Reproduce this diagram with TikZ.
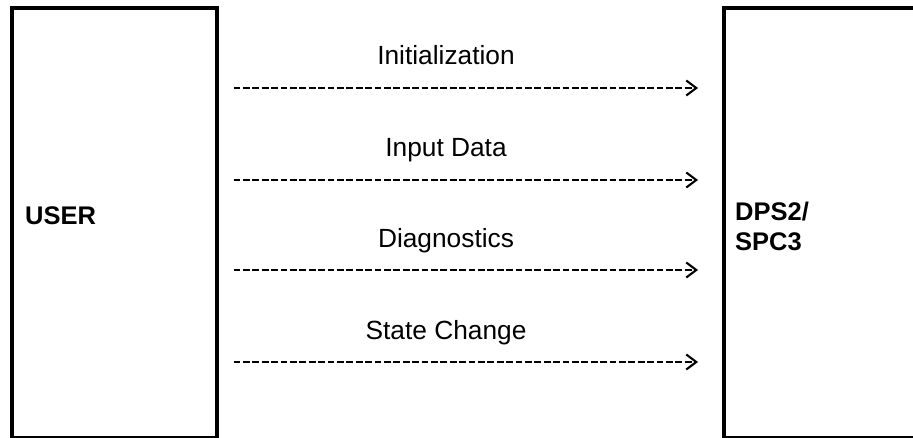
\documentclass[tikz,border=0pt]{standalone}
\usepackage{fontspec}
\setmainfont{Liberation Sans}
\usetikzlibrary{arrows.meta}
\begin{document}
\begin{tikzpicture}[x=1pt,y=-1pt,
  box/.style={draw=black,line width=4pt,inner sep=0pt,anchor=north west},
  lbl/.style={font=\fontsize{26.3}{31}\selectfont,inner sep=0pt,anchor=base},
  bold/.style={font=\fontsize{25.5}{30}\selectfont\bfseries,inner sep=0pt,anchor=base west,align=left},
  flow/.style={line width=2.4pt,dash pattern=on 6.8pt off 2.6pt,
    -{Straight Barb[length=10pt,width=15pt,line width=2.1pt]}}]
\useasboundingbox (0,0) rectangle (913,438);
\clip (0,0) rectangle (913,438);
\node[box,minimum width=205pt,minimum height=429.5pt] (user) at (9.5,6.5) {};
\node[box,minimum width=196pt,minimum height=429.5pt] (dps) at (722,6.5) {};
\node[bold] (usert) at (25,224.5) {USER};
\node[bold] (dpst) at (735,251) {DPS2/\\SPC3};
\node[lbl] (l1) at (446,65) {Initialization};
\node[lbl] (l2) at (446,157) {Input Data};
\node[lbl] (l3) at (446,248) {Diagnostics};
\node[lbl] (l4) at (446,339) {State Change};
\coordinate (y1) at (0,88);
\coordinate (y2) at (0,180);
\coordinate (y3) at (0,270);
\coordinate (y4) at (0,362);
\foreach \i in {1,2,3,4}{
  \draw[flow,shorten <=15pt,shorten >=24pt] (user.east |- y\i) -- (dps.west |- y\i);
}
\end{tikzpicture}
\end{document}
